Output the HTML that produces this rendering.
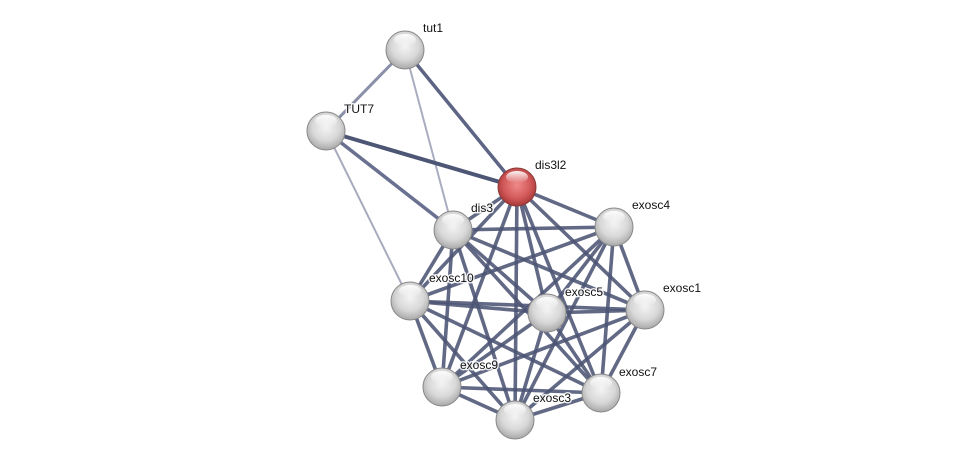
<!DOCTYPE html>
<html><head><meta charset="utf-8"><style>
html,body{margin:0;padding:0;background:#fff;width:976px;height:465px;overflow:hidden}
text{font-family:"Liberation Sans",sans-serif;font-size:12px;fill:#111;stroke:#fff;stroke-width:3px;stroke-opacity:0.85;paint-order:stroke;stroke-linejoin:round}
</style></head><body>
<svg width="976" height="465" xmlns="http://www.w3.org/2000/svg">
<defs>
<radialGradient id="g" cx="50%" cy="40%" r="60%">
<stop offset="0" stop-color="#f4f4f4"/><stop offset="0.6" stop-color="#d8d8d8"/><stop offset="1" stop-color="#a8a8a8"/></radialGradient>
<radialGradient id="r" cx="50%" cy="45%" r="60%">
<stop offset="0" stop-color="#f08a8a"/><stop offset="0.6" stop-color="#d25858"/><stop offset="1" stop-color="#9a3030"/></radialGradient>
<linearGradient id="h" x1="0" y1="0" x2="0" y2="1"><stop offset="0" stop-color="#fff" stop-opacity="0.95"/><stop offset="1" stop-color="#fff" stop-opacity="0"/></linearGradient>
</defs>
<g stroke-linecap="round">
<line x1="405" y1="50" x2="326" y2="131" stroke="#8a90a8" stroke-width="3"/>
<line x1="405" y1="50" x2="453" y2="230" stroke="#aaadc0" stroke-width="2"/>
<line x1="405" y1="50" x2="517" y2="187" stroke="#5d6484" stroke-width="3.5"/>
<line x1="326" y1="131" x2="517" y2="187" stroke="#4e5676" stroke-width="4"/>
<line x1="326" y1="131" x2="453" y2="230" stroke="#6a7090" stroke-width="3.5"/>
<line x1="326" y1="131" x2="410" y2="301" stroke="#a8abc0" stroke-width="2"/>
</g>
<g stroke="#4c5474" stroke-width="3.6" stroke-opacity="0.88">
<line x1="517" y1="187" x2="453" y2="230"/><line x1="517" y1="187" x2="614" y2="227"/><line x1="517" y1="187" x2="410" y2="301"/><line x1="517" y1="187" x2="547" y2="313"/><line x1="517" y1="187" x2="645" y2="310"/><line x1="517" y1="187" x2="442" y2="387"/><line x1="517" y1="187" x2="515" y2="420"/><line x1="517" y1="187" x2="601" y2="393"/>
<line x1="453" y1="230" x2="614" y2="227"/><line x1="453" y1="230" x2="410" y2="301"/><line x1="453" y1="230" x2="547" y2="313"/><line x1="453" y1="230" x2="645" y2="310"/><line x1="453" y1="230" x2="442" y2="387"/><line x1="453" y1="230" x2="515" y2="420"/><line x1="453" y1="230" x2="601" y2="393"/>
<line x1="614" y1="227" x2="410" y2="301"/><line x1="614" y1="227" x2="547" y2="313"/><line x1="614" y1="227" x2="645" y2="310"/><line x1="614" y1="227" x2="442" y2="387"/><line x1="614" y1="227" x2="515" y2="420"/><line x1="614" y1="227" x2="601" y2="393"/>
<line x1="410" y1="301" x2="547" y2="313"/><line x1="410" y1="301" x2="645" y2="310"/><line x1="410" y1="301" x2="442" y2="387"/><line x1="410" y1="301" x2="515" y2="420"/><line x1="410" y1="301" x2="601" y2="393"/>
<line x1="547" y1="313" x2="645" y2="310"/><line x1="547" y1="313" x2="442" y2="387"/><line x1="547" y1="313" x2="515" y2="420"/><line x1="547" y1="313" x2="601" y2="393"/>
<line x1="645" y1="310" x2="442" y2="387"/><line x1="645" y1="310" x2="515" y2="420"/><line x1="645" y1="310" x2="601" y2="393"/>
<line x1="442" y1="387" x2="515" y2="420"/><line x1="442" y1="387" x2="601" y2="393"/>
<line x1="515" y1="420" x2="601" y2="393"/>
</g>
<g>
<g transform="translate(405,50)"><circle r="19" fill="url(#g)" stroke="#888" stroke-width="1"/><ellipse cx="0" cy="-10" rx="11" ry="6" fill="url(#h)"/></g>
<g transform="translate(326,131)"><circle r="19" fill="url(#g)" stroke="#888" stroke-width="1"/><ellipse cx="0" cy="-10" rx="11" ry="6" fill="url(#h)"/></g>
<g transform="translate(517,187)"><circle r="19" fill="url(#r)" stroke="#8a3a3a" stroke-width="1"/><ellipse cx="0" cy="-10" rx="11" ry="6" fill="url(#h)"/></g>
<g transform="translate(453,230)"><circle r="19" fill="url(#g)" stroke="#888" stroke-width="1"/><ellipse cx="0" cy="-10" rx="11" ry="6" fill="url(#h)"/></g>
<g transform="translate(614,227)"><circle r="19" fill="url(#g)" stroke="#888" stroke-width="1"/><ellipse cx="0" cy="-10" rx="11" ry="6" fill="url(#h)"/></g>
<g transform="translate(410,301)"><circle r="19" fill="url(#g)" stroke="#888" stroke-width="1"/><ellipse cx="0" cy="-10" rx="11" ry="6" fill="url(#h)"/></g>
<g transform="translate(547,313)"><circle r="19" fill="url(#g)" stroke="#888" stroke-width="1"/><ellipse cx="0" cy="-10" rx="11" ry="6" fill="url(#h)"/></g>
<g transform="translate(645,310)"><circle r="19" fill="url(#g)" stroke="#888" stroke-width="1"/><ellipse cx="0" cy="-10" rx="11" ry="6" fill="url(#h)"/></g>
<g transform="translate(442,387)"><circle r="19" fill="url(#g)" stroke="#888" stroke-width="1"/><ellipse cx="0" cy="-10" rx="11" ry="6" fill="url(#h)"/></g>
<g transform="translate(515,420)"><circle r="19" fill="url(#g)" stroke="#888" stroke-width="1"/><ellipse cx="0" cy="-10" rx="11" ry="6" fill="url(#h)"/></g>
<g transform="translate(601,393)"><circle r="19" fill="url(#g)" stroke="#888" stroke-width="1"/><ellipse cx="0" cy="-10" rx="11" ry="6" fill="url(#h)"/></g>
</g>
<text x="423" y="32">tut1</text>
<text x="344" y="113">TUT7</text>
<text x="535" y="169">dis3l2</text>
<text x="471" y="212">dis3</text>
<text x="632" y="209">exosc4</text>
<text x="429" y="282">exosc10</text>
<text x="565" y="296">exosc5</text>
<text x="663" y="292">exosc1</text>
<text x="460" y="369">exosc9</text>
<text x="533" y="402">exosc3</text>
<text x="619" y="376">exosc7</text>
</svg>
</body></html>
